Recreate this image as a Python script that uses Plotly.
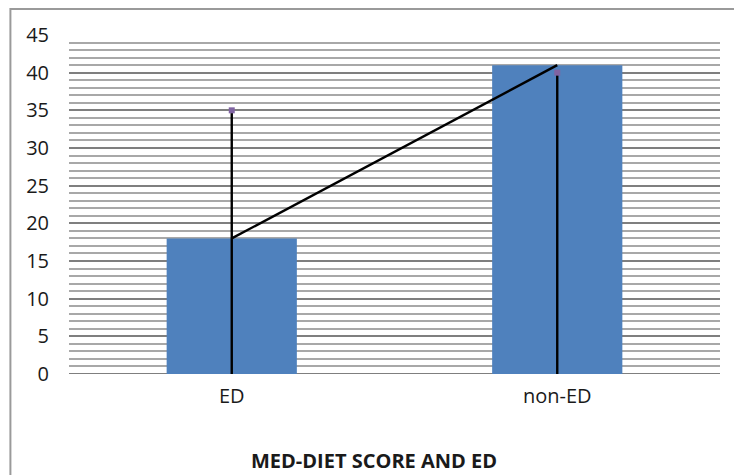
import plotly.graph_objects as go

# Chart data
categories = ["ED", "non-ED"]
scores = [18, 41]          # bar heights, also joined by the black line
upper_marks = [35, 40]     # tops of the vertical drop lines (purple markers)
y_ticks = [0, 5, 10, 15, 20, 25, 30, 35, 40, 45]

FONT = "Open Sans, Liberation Sans, sans-serif"

fig = go.Figure()

fig.add_trace(go.Bar(
    x=categories, y=scores,
    marker=dict(color="#4F81BD", line=dict(width=0)),
    hoverinfo="skip",
))

# drop lines from zero up to each upper mark, drawn as one-sided error bars
fig.add_trace(go.Scatter(
    x=categories, y=upper_marks, mode="markers",
    marker=dict(symbol="square", size=6, color="#8064A2"),
    error_y=dict(type="data", symmetric=False,
                 array=[0, 0], arrayminus=upper_marks,
                 color="black", thickness=2.4, width=0),
    hoverinfo="skip",
))

fig.add_trace(go.Scatter(
    x=categories, y=scores, mode="lines",
    line=dict(color="black", width=2.4),
    hoverinfo="skip",
))

fig.update_layout(
    width=734, height=475,
    margin=dict(l=69, r=14, t=35, b=101),
    paper_bgcolor="white", plot_bgcolor="white",
    showlegend=False,
    bargap=0.6,
    font=dict(family=FONT, color="#1a1a1a", size=20),
    xaxis=dict(
        showgrid=False, showline=False, zeroline=False,
        ticks="", tickfont=dict(size=20, family=FONT, color="#1a1a1a"),
        ticklabelstandoff=8,
    ),
    yaxis=dict(
        range=[0, 45], tickvals=y_ticks,
        showgrid=True, gridcolor="#7f7f7f", gridwidth=2,
        minor=dict(dtick=1, showgrid=True, gridcolor="#a8a8a8", gridwidth=2),
        zeroline=False, showline=False, ticks="",
        tickfont=dict(size=20, family=FONT, color="#1a1a1a"),
        ticklabelstandoff=19,
    ),
    annotations=[dict(
        text="<b>MED-DIET SCORE AND ED</b>",
        xref="paper", yref="paper", x=0.469, y=-0.255,
        xanchor="center", yanchor="middle", showarrow=False,
        font=dict(size=20, family=FONT, color="#1a1a1a"),
    )],
    shapes=[dict(
        type="rect", xref="paper", yref="paper",
        x0=-0.09, x1=1.03, y0=-0.35, y1=1.077,
        line=dict(color="#9a9a9a", width=2), layer="below",
    ), dict(
        type="line", xref="paper", yref="y",
        x0=0, x1=1, y0=0, y1=0,
        line=dict(color="#7f7f7f", width=2), layer="below",
    )],
)

fig.write_html("out.html")
